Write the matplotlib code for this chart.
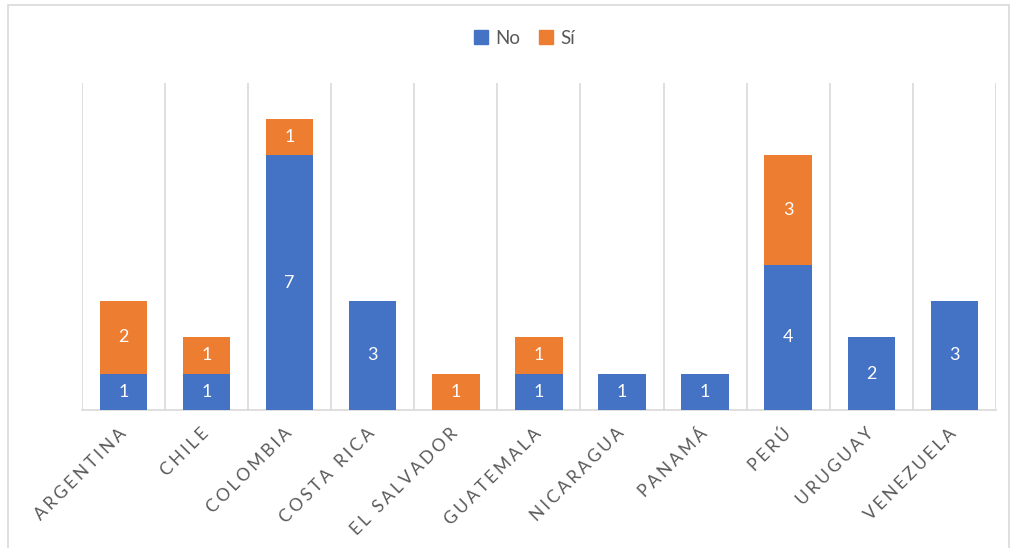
import numpy as np
import matplotlib.pyplot as plt
import matplotlib.patches as mpatches
import matplotlib.transforms as mtransforms

plt.rcParams['font.family'] = ['Lato', 'DejaVu Sans']

# data
paises = ['Argentina', 'Chile', 'Colombia', 'Costa Rica', 'El Salvador', 'Guatemala',
          'Nicaragua', 'Panamá', 'Perú', 'Uruguay', 'Venezuela']
no_vals = [1, 1, 7, 3, 0, 1, 1, 1, 4, 2, 3]
si_vals = [2, 1, 1, 0, 1, 1, 0, 0, 3, 0, 0]

c_no = '#4472C4'
c_si = '#ED7D31'
gris = '#595959'


def espaciar(s):
    # letter spacing like the original axis labels
    return '\u2006'.join(s.upper())


fig = plt.figure(figsize=(10.13, 5.48), dpi=100)
ax = fig.add_axes([0.081, 0.252, 0.902, 0.597])

x = np.arange(len(paises))
no = np.array(no_vals)
si = np.array(si_vals)
ax.bar(x, no, width=0.57, color=c_no, label='No', zorder=3)
ax.bar(x, si, width=0.57, bottom=no, color=c_si, label='Sí', zorder=3)

for i in range(len(paises)):
    if no[i] > 0:
        ax.text(x[i], no[i] / 2, str(no[i]), ha='center', va='center',
                color='white', fontsize=13, zorder=4)
    if si[i] > 0:
        ax.text(x[i], no[i] + si[i] / 2, str(si[i]), ha='center', va='center',
                color='white', fontsize=13, zorder=4)

for k in range(len(paises) + 1):
    ax.axvline(k - 0.5, color='#d9d9d9', lw=1.2, zorder=1)

ax.set_xlim(-0.5, len(paises) - 0.5)
ax.set_ylim(0, 9)
ax.set_yticks([])
for s in ['top', 'left', 'right']:
    ax.spines[s].set_visible(False)
ax.spines['bottom'].set_color('#d9d9d9')
ax.spines['bottom'].set_linewidth(1.2)
ax.set_xticks(x)
ax.set_xticklabels([espaciar(p) for p in paises], rotation=45, ha='right',
                   rotation_mode='anchor', color=gris, fontsize=12.5)
ax.tick_params(axis='x', length=0, pad=11)
desplaza = mtransforms.ScaledTranslation(-6 / 100, 0, fig.dpi_scale_trans)
for lab in ax.get_xticklabels():
    lab.set_transform(lab.get_transform() + desplaza)

fig.legend(handles=[mpatches.Patch(color=c_no, label='No'),
                    mpatches.Patch(color=c_si, label='Sí')],
           loc='center', bbox_to_anchor=(0.518, 0.93), ncol=2, frameon=False,
           fontsize=13.5, handlelength=0.75, handleheight=0.75, handletextpad=0.4,
           columnspacing=1.0, labelcolor=gris)

# chart border
fig.patches.append(mpatches.Rectangle((0.008, -0.01), 0.988, 1.0, transform=fig.transFigure,
                                      fill=False, edgecolor='#d9d9d9', lw=1.2))

fig.savefig('out.png', dpi=100)
